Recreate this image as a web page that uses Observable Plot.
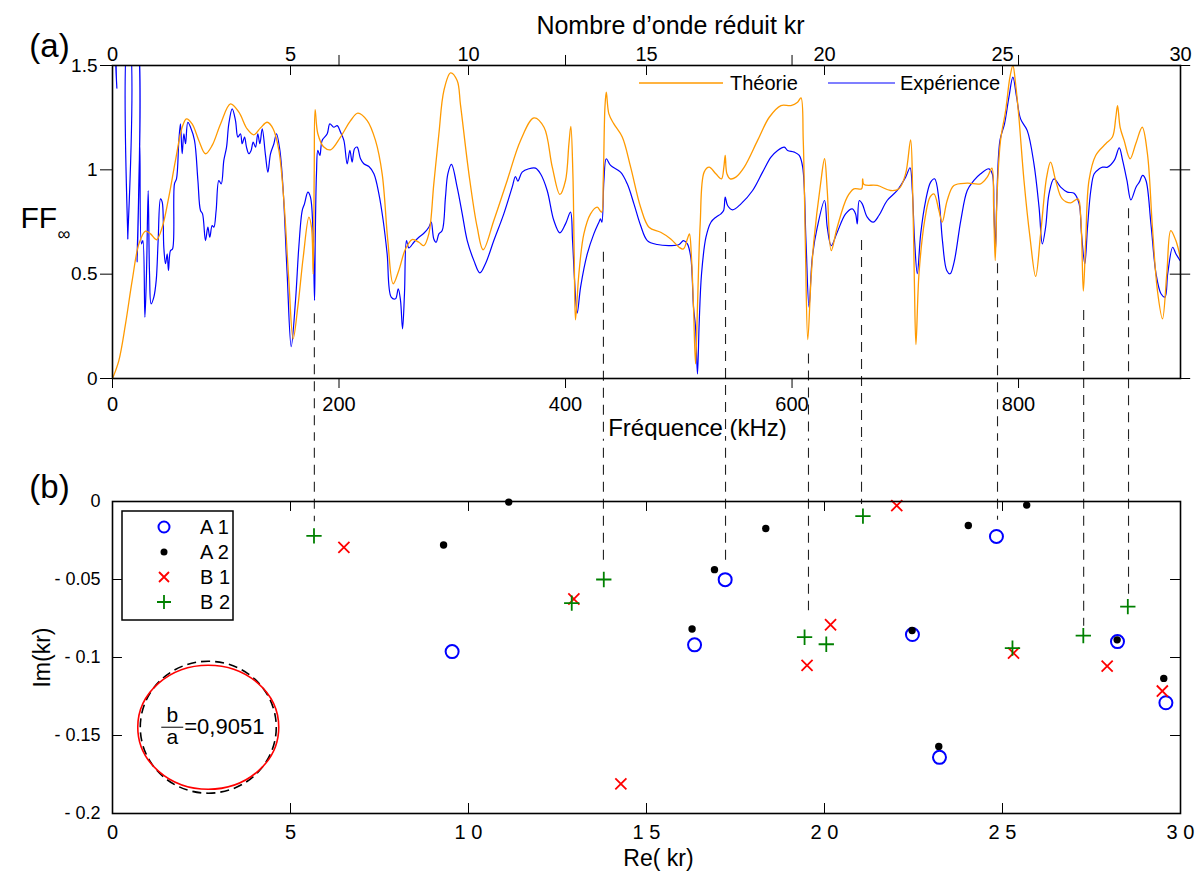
<!DOCTYPE html>
<html><head><meta charset="utf-8">
<script src="https://cdn.jsdelivr.net/npm/d3@7"></script>
<script src="https://cdn.jsdelivr.net/npm/@observablehq/plot@0.6"></script>
<style>
body{margin:0;background:#fff;}
#wrap{position:relative;width:1200px;height:873px;overflow:hidden;background:#fff;}
#wrap > svg{position:absolute;left:0;}
</style></head><body><div id="wrap"></div>
<script>
// ---------- DATA ----------
const KR_MAX = 30, F_MAX = 943;           // kr = 30 corresponds to 943 kHz
const freqTicks = [0, 200, 400, 600, 800];
const krTicks = [0, 5, 10, 15, 20, 25, 30];
const ffTicks = [0, 0.5, 1, 1.5];
const imTicks = [0, -0.05, -0.1, -0.15, -0.2];

const theoFreq = [0,5.6,11.5,17.4,23.3,29.1,33.6,38.9,43.9,49.7,55.6,61.5,65.3,70.3,76.2,82.1,88.0,95.4,104.2,111.6,118.9,124.8,130.7,136.6,141.9,146.9,151.3,155.7,159.5,163.6,168.4,173.4,175.7,177.2,178.1,178.9,181.3,186.6,192.5,201.3,210.2,216.6,224.9,232.2,238.1,243.1,247.8,252.8,258.7,264.6,270.5,274.9,279.3,283.7,288.2,292.6,298.5,304.3,307.3,314.7,322.0,327.3,336.7,348.5,360.3,372.1,381.0,388.3,395.0,400.0,403.0,404.7,406.5,407.7,408.8,411.8,416.2,422.1,428.0,431.8,433.3,434.8,436.0,438.3,442.7,450.1,457.5,466.3,473.7,484.0,492.9,500.3,504.1,507.6,509.4,511.2,513.0,514.8,516.5,518.9,522.4,526.8,532.7,537.7,539.8,541.0,542.5,545.4,550.4,557.8,569.6,579.9,590.2,599.0,604.9,607.9,609.9,611.7,613.9,616.7,619.3,625.2,628.7,631.1,634.6,639.9,648.7,654.6,661.4,662.3,663.5,675.3,687.0,694.4,700.3,704.7,706.5,708.0,709.4,712.1,717.1,721.8,725.3,729.7,732.6,737.0,742.9,754.7,766.5,772.3,776.5,778.0,779.4,781.2,784.1,788.6,792.4,795.0,797.4,800.3,804.8,810.1,815.1,819.5,824.8,828.3,832.8,838.6,846.1,852.5,854.9,857.2,859.3,862.2,868.1,877.0,882.9,885.9,887.4,889.7,893.2,898.5,903.5,909.2,913.8,918.2,922.6,927.1,930.9,934.4,938.9,942.7];
const theoFF = [0,0.086,0.262,0.47,0.645,0.706,0.693,0.665,0.725,0.869,1.045,1.204,1.244,1.220,1.141,1.077,1.117,1.220,1.316,1.276,1.196,1.168,1.201,1.228,1.196,1.093,0.853,0.470,0.190,0.342,0.581,0.773,0.725,0.50,0.98,1.288,1.173,1.109,1.096,1.157,1.236,1.272,1.236,1.141,0.981,0.661,0.454,0.518,0.621,0.666,0.653,0.637,0.693,0.933,1.173,1.380,1.465,1.428,1.31,0.981,0.725,0.617,0.757,0.949,1.141,1.249,1.204,1.013,0.882,0.949,1.125,1.208,0.981,0.581,0.281,0.502,0.693,0.789,0.821,0.797,0.949,1.300,1.372,1.268,1.220,1.157,1.013,0.821,0.725,0.701,0.669,0.629,0.621,0.669,0.693,0.581,0.342,0.070,0.342,0.741,0.989,1.013,0.981,0.957,1.013,1.069,0.981,0.957,0.965,1.013,1.141,1.252,1.308,1.308,1.324,1.345,1.141,0.661,0.187,0.470,0.661,0.933,1.053,0.901,0.613,0.725,0.869,0.909,0.909,0.957,0.930,0.925,0.901,0.909,0.981,1.144,0.901,0.470,0.163,0.502,0.757,0.869,0.885,0.805,0.749,0.853,0.925,0.936,0.933,0.965,1.008,0.821,0.565,0.901,1.141,1.284,1.444,1.500,1.412,1.252,0.949,0.677,0.489,0.693,0.965,1.037,0.949,0.861,0.842,0.861,0.773,0.419,0.661,0.949,1.069,1.125,1.157,1.252,1.308,1.204,1.141,1.053,1.125,1.204,1.077,0.725,0.422,0.286,0.502,0.709,0.661,0.581];

const expFreq = [2.6,3.8,5.0,12.4,13.5,15.3,20.0,21.8,24.1,25.6,26.8,28.6,30.0,31.5,32.7,34.1,36.5,38.6,40.3,42.4,43.9,45.3,46.8,48.3,49.4,51.2,53.0,54.7,56.5,58.6,60.0,61.5,63.0,64.5,66.5,68.9,72.4,75.4,77.7,79.5,82.1,84.2,85.9,88.0,89.5,91.5,93.9,96.0,98.3,100.7,102.7,105.7,108.6,110.7,113.0,114.5,116.6,118.3,120.4,122.4,124.2,126.3,128.3,130.1,132.2,135.1,137.2,139.5,142.5,144.8,147.8,150.7,154.2,157.8,161.6,164.5,167.5,169.5,172.5,174.8,176.9,178.4,179.0,180.1,181.3,183.1,185.1,189.6,191.9,195.4,198.4,201.3,204.3,207.2,209.6,211.6,213.7,216.0,219.0,221.9,226.4,230.8,235.2,239.0,242.5,246.1,249.9,252.3,254.3,256.1,257.8,259.6,261.7,266.1,270.5,274.9,279.3,281.4,283.7,285.8,288.2,291.1,294.0,296.1,299.3,304.3,308.8,313.2,319.1,324.4,329.3,336.7,345.5,352.9,355.8,357.9,361.7,367.6,373.5,377.9,383.8,389.7,395.0,400.0,404.4,406.2,408.0,410.3,413.3,419.2,425.0,429.5,430.9,432.1,433.9,436.0,439.8,448.6,454.5,460.4,466.3,472.2,481.0,492.9,500.3,504.1,507.6,510.6,513.0,514.8,516.5,518.0,520.1,524.0,528.4,532.8,537.2,539.6,541.0,543.1,547.5,554.9,565.2,574.0,581.4,587.3,593.2,596.1,602.0,606.4,609.4,612.3,615.0,617.9,622.3,628.7,631.1,634.6,639.9,647.3,653.2,656.1,657.6,659.4,662.0,666.4,671.7,676.7,684.0,692.9,700.3,704.2,706.2,708.2,710.6,713.6,718.0,722.4,725.9,729.8,732.8,736.6,739.6,743.1,749.0,754.7,760.6,766.5,773.8,776.8,778.3,779.7,780.6,783.6,787.6,791.5,795.0,798.3,801.8,807.7,813.6,818.1,821.0,823.9,826.9,831.3,837.2,843.1,849.0,853.5,855.6,858.5,860.9,863.8,866.8,871.2,874.2,878.6,884.5,888.9,891.9,895.7,899.2,903.7,906.6,909.6,912.5,916.9,921.4,925.8,929.3,931.7,936.1,939.0,942.7];
const expFF = [1.70,1.39,1.70,1.70,0.669,1.70,1.70,0.558,1.125,0.645,0.661,0.294,0.502,0.901,0.502,0.358,0.390,0.470,0.661,0.861,0.845,0.629,0.550,0.597,0.518,0.613,0.621,0.933,0.957,1.141,1.220,1.077,1.173,1.125,1.228,1.204,1.141,0.949,0.805,0.789,0.661,0.725,0.677,0.733,0.725,0.805,0.949,0.933,1.045,1.109,1.220,1.292,1.236,1.157,1.173,1.125,1.157,1.109,1.077,1.093,1.133,1.109,1.173,1.125,1.196,1.069,0.989,1.077,1.125,1.173,1.093,0.901,0.502,0.153,0.374,0.629,0.805,0.837,0.893,0.869,0.725,0.374,0.661,0.981,1.093,1.069,1.141,1.173,1.220,1.204,1.212,1.181,1.141,1.029,1.093,1.037,1.101,1.109,1.053,1.029,1.016,0.981,0.885,0.757,0.597,0.390,0.382,0.430,0.374,0.238,0.406,0.661,0.626,0.653,0.677,0.696,0.725,0.749,0.669,0.653,0.693,0.709,0.869,0.981,1.026,0.917,0.789,0.661,0.565,0.506,0.550,0.661,0.789,0.917,0.968,0.946,0.989,1.005,1.008,0.981,0.901,0.757,0.698,0.741,0.797,0.661,0.470,0.313,0.438,0.597,0.693,0.749,0.765,0.749,0.949,1.053,1.021,0.989,0.933,0.837,0.733,0.661,0.642,0.637,0.642,0.661,0.645,0.581,0.342,0.246,0.022,0.262,0.502,0.677,0.749,0.773,0.789,0.805,0.869,0.829,0.808,0.837,0.901,0.989,1.061,1.093,1.109,1.093,1.085,1.069,1.013,0.661,0.342,0.581,0.725,0.853,0.725,0.637,0.701,0.789,0.813,0.789,0.741,0.853,0.837,0.773,0.749,0.781,0.853,0.901,0.965,1.010,0.901,0.661,0.502,0.693,0.853,0.941,0.957,0.853,0.661,0.518,0.502,0.558,0.757,0.901,0.949,0.981,1.005,0.981,0.789,0.621,0.821,1.141,1.220,1.348,1.444,1.348,1.244,1.188,1.029,0.821,0.645,0.725,0.885,0.957,0.917,0.893,0.888,0.837,0.693,0.550,0.725,0.901,0.981,1.005,1.013,1.013,1.045,1.105,1.045,0.949,0.856,0.917,0.941,0.973,0.949,0.741,0.502,0.406,0.390,0.502,0.629,0.597,0.565];

// Panel (b): complex roots Re(kr), Im(kr)
const a1Re = [9.54,16.35,17.21,22.47,23.23,24.83,28.23,29.59];
const a1Im = [-0.0962,-0.0919,-0.0501,-0.0853,-0.164,-0.0224,-0.0898,-0.129];
const a2Re = [9.30,11.13,16.28,16.91,18.35,22.46,23.21,24.04,25.68,28.22,29.53];
const a2Im = [-0.0279,-0.0004,-0.0817,-0.0437,-0.0173,-0.0827,-0.157,-0.0154,-0.0023,-0.0887,-0.1134];
const b1Re = [6.50,12.96,14.28,19.51,20.17,22.03,25.31,27.94,29.49];
const b1Im = [-0.0294,-0.0625,-0.181,-0.105,-0.079,-0.0026,-0.0972,-0.1055,-0.1215];
const b2Re = [5.66,12.90,13.80,19.44,20.05,21.08,25.28,27.27,28.52];
const b2Im = [-0.022,-0.0652,-0.050,-0.087,-0.0915,-0.0094,-0.094,-0.086,-0.0674];

// dashed links between panels (kr position, FF start, Im end)
const linkKr = [5.67,13.79,17.22,19.55,21.04,24.86,27.28,28.54];
const linkFF = [0.31,0.605,0.70,0.118,0.661,0.55,0.326,0.813];
const linkIm = [-0.013,-0.041,-0.039,-0.070,-0.002,-0.012,-0.080,-0.060];

// inset: section shape, b/a ratio
const insetRe = [2.69], insetIm = [-0.1447];
const ratioText = "=0,9051";

// ---------- BUILD ----------
const FONT = '"Liberation Sans", Arial, Helvetica, sans-serif';
const toF = kr => kr * F_MAX / KR_MAX;
const theo = theoFreq.map((f, i) => ({f, v: theoFF[i]}));
const expe = expFreq.map((f, i) => ({f, v: expFF[i]}));
const links = linkKr.map((k, i) => ({k, top: linkFF[i], bot: linkIm[i]}));
const pts = (re, im) => re.map((x, i) => ({x, y: im[i]}));
const inset = insetRe.map((x, i) => ({x, y: insetIm[i]}));
const lbl = {textAnchor: "middle", lineAnchor: "middle", text: d => d};

function ellipseSymbol(k) {
  return {draw(ctx, size) {
    const rx = Math.sqrt(size / Math.PI), ry = rx * k, c = 0.5522847498;
    ctx.moveTo(rx, 0);
    ctx.bezierCurveTo(rx, ry * c, rx * c, ry, 0, ry);
    ctx.bezierCurveTo(-rx * c, ry, -rx, ry * c, -rx, 0);
    ctx.bezierCurveTo(-rx, -ry * c, -rx * c, -ry, 0, -ry);
    ctx.bezierCurveTo(rx * c, -ry, rx, -ry * c, rx, 0);
    ctx.closePath();
  }};
}
const barSymbol = {draw(ctx, size) { const r = Math.sqrt(size / Math.PI); ctx.moveTo(-r, 0); ctx.lineTo(r, 0); }};

const A = Plot.plot({
  width: 1200, height: 440,
  marginLeft: 112, marginRight: 20, marginTop: 65, marginBottom: 62,
  style: {fontFamily: FONT, fontSize: "18px", background: "white", color: "black"},
  x: {domain: [0, F_MAX]},
  y: {domain: [0, 1.5]},
  marks: [
    Plot.line(expe, {x: "f", y: "v", stroke: "#0000ff", strokeWidth: 1.2, curve: "catmull-rom", clip: true}),
    Plot.line(theo, {x: "f", y: "v", stroke: "#ff9a00", strokeWidth: 1.3, curve: "catmull-rom", clip: true}),
    Plot.ruleX(links, {x: d => toF(d.k), y1: "top", y2: () => -0.32, stroke: "#222", strokeWidth: 1.1, strokeDasharray: "10,7"}),
    Plot.frame({stroke: "black", strokeWidth: 1.6}),
    Plot.axisY(ffTicks, {anchor: "left", tickSize: 12, tickPadding: 3, tickFormat: d => String(d), fontSize: 19, label: null}),
    Plot.axisX(freqTicks, {anchor: "bottom", tickSize: 10, tickPadding: 8, tickFormat: d => String(d), fontSize: 20, label: null}),
    Plot.axisX(krTicks.map(toF), {anchor: "top", tickSize: 0, tickPadding: 5, tickFormat: d => String(Math.round(d * KR_MAX / F_MAX)), fontSize: 20, label: null}),
    Plot.ruleX(krTicks.slice(1, -1).map(toF), {x: d => d, y1: () => 1.5, y2: () => 1.452, stroke: "black"}),
    Plot.ruleX(freqTicks.slice(1), {x: d => d, y1: () => 1.5, y2: () => 1.548, stroke: "black"}),
    Plot.ruleY(ffTicks, {y: d => d, x1: () => 934, x2: () => 952, stroke: "black"}),
    Plot.text(["(a)"], {...lbl, frameAnchor: "top-left", dx: -63, dy: -19, fontSize: 33}),
    Plot.text(["Nombre d’onde réduit kr"], {...lbl, frameAnchor: "top", dx: 24, dy: -40, fontSize: 25}),
    Plot.text(["Fréquence (kHz)"], {...lbl, frameAnchor: "bottom", dx: 51, dy: 50, fontSize: 24}),
    Plot.text(["FF"], {...lbl, textAnchor: "start", frameAnchor: "left", dx: -92, dy: -4, fontSize: 30}),
    Plot.text(["∞"], {...lbl, textAnchor: "start", frameAnchor: "left", dx: -55, dy: 12, fontSize: 18})
  ]
});
A.style.top = "0px";

const spaced = d => String(d).split("").join(" ");
const B = Plot.plot({
  width: 1200, height: 433,
  marginLeft: 112, marginRight: 20, marginTop: 61, marginBottom: 60,
  style: {fontFamily: FONT, fontSize: "18px", background: "white", color: "black"},
  x: {domain: [0, KR_MAX]},
  y: {domain: [-0.2, 0]},
  marks: [
    Plot.ruleX(links, {x: "k", y1: () => 0.045, y2: "bot", stroke: "#222", strokeWidth: 1.1, strokeDasharray: "10,7"}),
    Plot.dot(inset, {x: "x", y: "y", r: 68, symbol: ellipseSymbol(0.97), stroke: "black", fill: "none", strokeWidth: 1.6, strokeDasharray: "9,5"}),
    Plot.dot(inset, {x: "x", y: "y", r: 70.5, symbol: ellipseSymbol(0.88), stroke: "#ff0000", fill: "none", strokeWidth: 1.6}),
    Plot.text(inset, {x: "x", y: "y", text: () => "b", dx: -36, dy: -12, fontSize: 21}),
    Plot.text(inset, {x: "x", y: "y", text: () => "a", dx: -36, dy: 10, fontSize: 21}),
    Plot.dot(inset, {x: "x", y: "y", r: 11, symbol: barSymbol, dx: -36, dy: 0, stroke: "black", strokeWidth: 1}),
    Plot.text(inset, {x: "x", y: "y", text: () => ratioText, dx: -24, dy: 0, textAnchor: "start", fontSize: 22}),
    Plot.dot(pts(a1Re, a1Im), {x: "x", y: "y", r: 6.5, stroke: "#0000ff", strokeWidth: 2, fill: "none"}),
    Plot.dot(pts(a2Re, a2Im), {x: "x", y: "y", r: 3.7, fill: "black", stroke: "none"}),
    Plot.dot(pts(b1Re, b1Im), {x: "x", y: "y", symbol: "times", r: 5.1, stroke: "#ff0000", strokeWidth: 1.8}),
    Plot.dot(pts(b2Re, b2Im), {x: "x", y: "y", symbol: "plus", r: 5, stroke: "#008000", strokeWidth: 1.8}),
    Plot.frame({stroke: "black", strokeWidth: 1.6}),
    Plot.axisX(krTicks, {anchor: "bottom", tickSize: 0, tickPadding: 11, tickFormat: spaced, fontSize: 20, label: null}),
    Plot.axisY(imTicks, {anchor: "left", tickSize: 0, tickPadding: 12, tickFormat: d => d === 0 ? "0" : "- " + String(-d), fontSize: 18, label: null}),
    Plot.ruleX(krTicks.slice(1, -1), {x: d => d, y1: () => -0.2, y2: () => -0.1936, stroke: "black"}),
    Plot.ruleX(krTicks.slice(1, -1), {x: d => d, y1: () => 0, y2: () => -0.0064, stroke: "black"}),
    Plot.ruleY(imTicks.slice(1, -1), {y: d => d, x1: () => 0, x2: () => 0.28, stroke: "black"}),
    Plot.ruleY(imTicks.slice(1, -1), {y: d => d, x1: () => KR_MAX, x2: () => KR_MAX - 0.28, stroke: "black"}),
    Plot.text(["(b)"], {...lbl, frameAnchor: "top-left", dx: -63, dy: -14, fontSize: 33}),
    Plot.text(["Im(kr)"], {...lbl, frameAnchor: "left", dx: -70, dy: 0, rotate: -90, fontSize: 23}),
    Plot.text(["Re( kr)"], {...lbl, frameAnchor: "bottom", dx: 12, dy: 45, fontSize: 23})
  ]
});
B.style.top = "440px";

const wrap = document.getElementById("wrap");
wrap.appendChild(A);
wrap.appendChild(B);

// legends
const NS = "http://www.w3.org/2000/svg";
const leg = document.createElementNS(NS, "svg");
leg.setAttribute("width", 1200); leg.setAttribute("height", 873);
leg.style.cssText = "position:absolute;left:0;top:0;pointer-events:none;font-family:" + FONT;
leg.innerHTML = `
  <line x1="639" x2="723" y1="83" y2="83" stroke="#ff9a00" stroke-width="1.3"/>
  <text x="730" y="83" dy="0.35em" font-size="20">Théorie</text>
  <line x1="828" x2="895" y1="83" y2="83" stroke="#0000ff" stroke-width="1.2"/>
  <text x="900" y="83" dy="0.35em" font-size="20">Expérience</text>
  <rect x="122" y="511" width="111" height="109" fill="white" stroke="black" stroke-width="1.5"/>
  <circle cx="164" cy="527" r="5.5" fill="none" stroke="#0000ff" stroke-width="2"/>
  <circle cx="164" cy="552" r="3.5" fill="black"/>
  <path d="M159,572L169,582M169,572L159,582" stroke="#ff0000" stroke-width="1.8"/>
  <path d="M157,602H171M164,595V609" stroke="#008000" stroke-width="1.8"/>
  <text x="200" y="527" dy="0.35em" font-size="20">A 1</text>
  <text x="200" y="552" dy="0.35em" font-size="20">A 2</text>
  <text x="200" y="577" dy="0.35em" font-size="20">B 1</text>
  <text x="200" y="602" dy="0.35em" font-size="20">B 2</text>`;
wrap.appendChild(leg);
</script>
</body></html>
